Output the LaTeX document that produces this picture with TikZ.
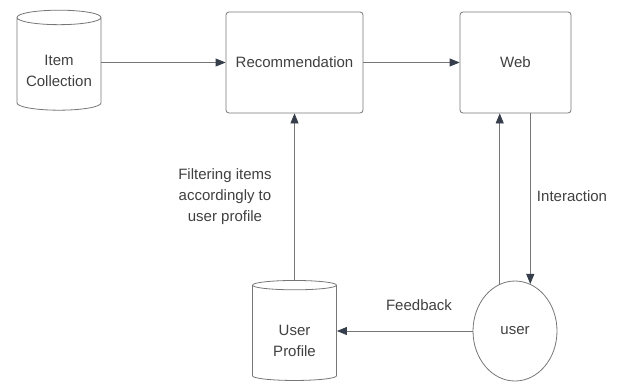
\documentclass[tikz,border=0pt]{standalone}
\usepackage{fontspec}
\setmainfont{Liberation Sans}
\usepackage{tikz}
\usetikzlibrary{positioning, arrows.meta, shapes.geometric}
\definecolor{LineGray}{RGB}{118,118,118}
\definecolor{TextGray}{RGB}{64,64,64}
\definecolor{TipGray}{RGB}{55,62,75}

\begin{document}
\begin{tikzpicture}[x=1pt, y=-1pt,
    every node/.style={font=\fontsize{15}{21}\selectfont, text=TextGray},
    box/.style={draw=LineGray, line width=0.8pt, rounded corners=3pt, align=center},
    store/.style={cylinder, shape border rotate=90, draw=LineGray, line width=0.8pt, aspect=0.22, align=center, inner sep=0pt, minimum width=84pt, minimum height=100pt},
    arr/.style={draw=LineGray, line width=0.8pt, -{Triangle[length=10pt, width=8pt, fill=TipGray, color=TipGray]}}]
  \useasboundingbox (0,0) rectangle (617,381);
  % top row
  \node[store] (items) at (59,64) {\phantom{Item}\\\phantom{Collection}};
  \node[align=center] (itemstxt) at (59,71) {Item\\Collection};
  \node[box, minimum width=137pt, minimum height=101pt] (rec) at (294.5,62.5) {Recommendation};
  \node[box, minimum width=111pt, minimum height=101pt] (web) at (515.5,62.5) {Web};
  % bottom row
  \node[store] (profile) at (294.5,333) {\phantom{User}\\\phantom{Profile}};
  \node[align=center] (profiletxt) at (294.5,340.5) {User\\Profile};
  \node[ellipse, draw=LineGray, line width=0.8pt, inner sep=0pt, minimum width=84pt, minimum height=100pt] (user) at (515,331) {user};
  % labels
  \node[align=center] (filterlbl) at (225,197) {Filtering items\\accordingly to\\user profile};
  \node (interlbl) at (572,196) {Interaction};
  \node (feedlbl) at (419,305) {Feedback};
  % connectors
  \draw[arr] (items.east |- rec.west) -- (rec.west);
  \draw[arr] (rec) -- (web);
  \draw[arr] (profile.north) -- (rec.south);
  \draw[arr] (user.108) -- (web.south -| user.108);
  \draw[arr] (web.south -| user.72) -- (user.72);
  \draw[arr] (user.west) -- (profile.east |- user.west);
\end{tikzpicture}
\end{document}
